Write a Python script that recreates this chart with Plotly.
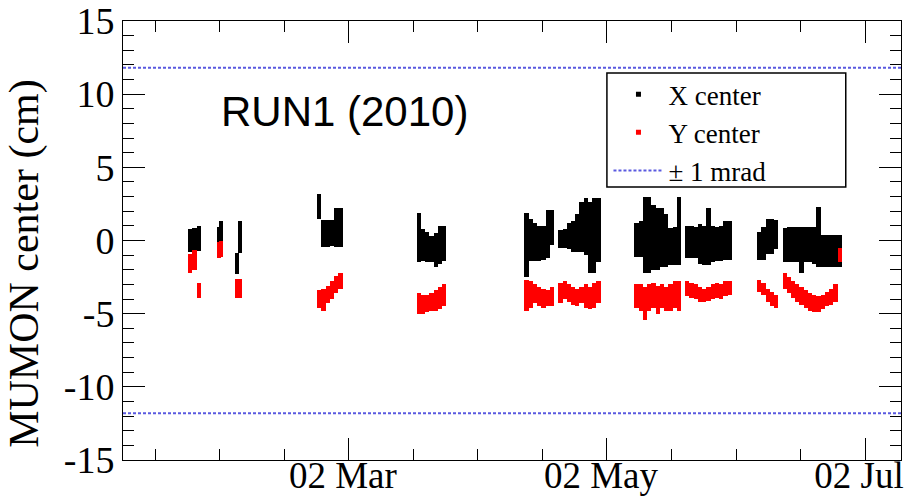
import plotly.graph_objects as go

# ---------------- data ----------------
# X center: date, low, high (cm)
x_dates = [
    "2010-01-23 12:00", "2010-01-24 12:00", "2010-01-25 12:00",
    "2010-01-30 06:00", "2010-01-30 18:00",
    "2010-02-03 12:00", "2010-02-04 06:00",
    "2010-02-23", "2010-02-24", "2010-02-25", "2010-02-26", "2010-02-27", "2010-02-28",
    "2010-03-18 12:00", "2010-03-19 12:00", "2010-03-20 12:00", "2010-03-21 12:00",
    "2010-03-22 12:00", "2010-03-23 12:00", "2010-03-24 12:00",
    "2010-04-13", "2010-04-14", "2010-04-15", "2010-04-16", "2010-04-17", "2010-04-18", "2010-04-19",
    "2010-04-21", "2010-04-22", "2010-04-23", "2010-04-24", "2010-04-25",
    "2010-04-26", "2010-04-27", "2010-04-28", "2010-04-29", "2010-04-30",
    "2010-05-09", "2010-05-10", "2010-05-11", "2010-05-12", "2010-05-13", "2010-05-14",
    "2010-05-15", "2010-05-16", "2010-05-17", "2010-05-18", "2010-05-19",
    "2010-05-21", "2010-05-22", "2010-05-23", "2010-05-24", "2010-05-25", "2010-05-26",
    "2010-05-27", "2010-05-28", "2010-05-29", "2010-05-30", "2010-05-31",
    "2010-06-07", "2010-06-08", "2010-06-09", "2010-06-10", "2010-06-11",
    "2010-06-13", "2010-06-14", "2010-06-15", "2010-06-16", "2010-06-17", "2010-06-18", "2010-06-19",
    "2010-06-20", "2010-06-21", "2010-06-22", "2010-06-23", "2010-06-24", "2010-06-25", "2010-06-26",
]
x_low = [
    -0.8, -0.8, -0.75,
    -0.1, -0.1,
    -2.3, -0.85,
    1.5, -0.45, -0.45, -0.4, -0.45, -0.45,
    -1.5, -1.4, -1.5, -1.5, -1.8, -1.6, -1.4,
    -2.5, -1.4, -1.4, -1.4, -1.3, -1.2, -0.3,
    -0.5, -0.5, -0.6, -0.8, -0.8, -0.8, -1.0, -2.2, -2.2, -1.5,
    -1.1, -1.1, -2.2, -2.2, -2.0, -2.0, -1.8, -1.8, -1.7, -1.7, -1.7,
    -1.2, -1.2, -1.2, -1.6, -1.7, -1.7, -1.5, -1.4, -1.4, -1.3, -1.3,
    -1.3, -1.3, -0.9, -0.9, -0.6,
    -1.5, -1.5, -1.5, -1.5, -2.2, -1.5, -1.5, -1.6, -1.8, -1.8, -1.8, -1.8, -1.8, -1.8,
]
x_high = [
    0.8, 0.85, 1.0,
    0.9, 1.3,
    -0.85, 1.3,
    3.2, 1.4, 1.4, 1.4, 2.2, 2.2,
    1.9, 0.8, 0.6, 0.3, 0.5, 1.0, 1.0,
    1.9, 1.5, 1.2, 1.0, 1.0, 2.1, 2.1,
    0.7, 0.8, 1.2, 1.3, 1.8, 2.6, 2.9, 2.6, 2.9, 2.9,
    1.2, 1.3, 3.0, 3.0, 2.4, 2.2, 2.2, 1.8, 0.85, 0.9, 3.0,
    1.0, 1.0, 0.9, 1.1, 1.0, 2.2, 1.0, 0.9, 1.0, 1.3, 1.3,
    0.6, 0.9, 1.5, 1.5, 1.4,
    0.85, 0.9, 0.9, 0.9, 0.9, 0.9, 0.9, 0.9, 2.3, 0.4, 0.4, 0.4, 0.4, 0.4,
]

# Y center: date, low, high (cm)
y_dates = [
    "2010-01-23 12:00", "2010-01-24 12:00", "2010-01-25 12:00",
    "2010-01-30 06:00", "2010-01-30 18:00",
    "2010-02-03 12:00", "2010-02-04 06:00",
    "2010-02-23", "2010-02-24", "2010-02-25", "2010-02-26", "2010-02-27", "2010-02-28",
    "2010-03-18 12:00", "2010-03-19 12:00", "2010-03-20 12:00", "2010-03-21 12:00",
    "2010-03-22 12:00", "2010-03-23 12:00", "2010-03-24 12:00",
    "2010-04-13", "2010-04-14", "2010-04-15", "2010-04-16", "2010-04-17", "2010-04-18", "2010-04-19",
    "2010-04-21", "2010-04-22", "2010-04-23", "2010-04-24", "2010-04-25",
    "2010-04-26", "2010-04-27", "2010-04-28", "2010-04-29", "2010-04-30",
    "2010-05-09", "2010-05-10", "2010-05-11", "2010-05-12", "2010-05-13", "2010-05-14",
    "2010-05-15", "2010-05-16", "2010-05-17", "2010-05-18", "2010-05-19",
    "2010-05-21", "2010-05-22", "2010-05-23", "2010-05-24", "2010-05-25", "2010-05-26",
    "2010-05-27", "2010-05-28", "2010-05-29", "2010-05-30", "2010-05-31",
    "2010-06-07", "2010-06-08", "2010-06-09", "2010-06-10", "2010-06-11",
    "2010-06-13", "2010-06-14", "2010-06-15", "2010-06-16", "2010-06-17", "2010-06-18", "2010-06-19",
    "2010-06-20", "2010-06-21", "2010-06-22", "2010-06-23", "2010-06-24", "2010-06-25", "2010-06-26",
]
y_low = [
    -2.2, -2.0, -3.9,
    -1.2, -1.1,
    -3.9, -3.9,
    -4.6, -4.8, -4.3, -4.0, -3.6, -3.3,
    -5.0, -5.0, -4.9, -4.8, -4.8, -4.7, -4.5,
    -4.8, -4.6, -4.3, -4.5, -4.6, -4.5, -4.5,
    -4.3, -4.0, -4.2, -4.4, -4.5, -4.3, -4.6, -4.7, -4.6, -4.3,
    -4.6, -4.8, -5.4, -4.8, -4.6, -5.0, -4.6, -4.8, -4.8, -4.6, -4.8,
    -3.8, -3.9, -4.0, -4.2, -4.2, -4.1, -4.0, -3.9, -4.0, -3.8, -3.7,
    -3.5, -3.7, -4.2, -4.5, -4.6,
    -3.3, -3.6, -3.9, -4.2, -4.4, -4.6, -4.8, -4.9, -4.9, -4.7, -4.5, -4.4, -4.2, -1.5,
]
y_high = [
    -0.9, -0.65, -2.9,
    -0.1, 0.0,
    -2.6, -2.6,
    -3.4, -3.3, -3.1, -2.8, -2.4, -2.2,
    -3.6, -3.7, -3.7, -3.6, -3.4, -3.2, -3.0,
    -2.7, -2.8, -3.0, -3.2, -3.3, -3.4, -3.2,
    -2.9, -2.8, -3.0, -3.2, -3.3, -3.2, -3.0, -3.2, -2.9, -2.8,
    -3.0, -3.0, -3.2, -3.0, -2.9, -3.1, -3.0, -3.2, -3.0, -2.8, -2.8,
    -2.8, -2.9, -3.0, -3.2, -3.3, -3.2, -3.0, -2.9, -3.0, -2.8, -2.8,
    -2.7, -2.9, -3.3, -3.5, -3.7,
    -2.2, -2.5, -2.8, -3.0, -3.2, -3.4, -3.6, -3.7, -3.8, -3.7, -3.5, -3.3, -3.0, -0.5,
]

mrad_limit = 11.8  # +-1 mrad in cm

y_tick_vals = [-15, -10, -5, 0, 5, 10, 15]
y_tick_text = ["-15", "-10", "-5", "0", "5", "10", "15"]
x_tick_vals = ["2010-03-02", "2010-05-02", "2010-07-02"]
x_tick_text = ["02 Mar", "02 May", "02 Jul"]
x_range = ["2010-01-07 14:24", "2010-07-10 12:00"]
y_range = [-15, 15]

DAY_MS = 86400000
SERIF = "Liberation Serif"
BLUE = "#5a5ae0"

fig = go.Figure()

fig.add_trace(go.Bar(
    x=x_dates, y=[h - l for l, h in zip(x_low, x_high)], base=x_low,
    width=DAY_MS, marker=dict(color="black", line=dict(width=0)),
    showlegend=False, hoverinfo="skip"))
fig.add_trace(go.Bar(
    x=y_dates, y=[h - l for l, h in zip(y_low, y_high)], base=y_low,
    width=DAY_MS, marker=dict(color="#ff0000", line=dict(width=0)),
    showlegend=False, hoverinfo="skip"))

for sign in (1, -1):
    fig.add_trace(go.Scatter(
        x=x_range, y=[sign * mrad_limit] * 2, mode="lines",
        line=dict(color=BLUE, width=2, dash="3px,2px"),
        showlegend=False, hoverinfo="skip"))

# legend entries
fig.add_trace(go.Scatter(x=[None], y=[None], mode="markers", name="X center",
                         marker=dict(symbol="square", size=5, color="black")))
fig.add_trace(go.Scatter(x=[None], y=[None], mode="markers", name="Y center",
                         marker=dict(symbol="square", size=5, color="#ff0000")))
fig.add_trace(go.Scatter(x=[None], y=[None], mode="lines", name="± 1 mrad",
                         line=dict(color=BLUE, width=2, dash="3px,2px")))

fig.update_layout(
    width=906, height=499,
    margin=dict(l=123, r=5, t=21, b=39, autoexpand=False),
    paper_bgcolor="white", plot_bgcolor="white",
    barmode="overlay", bargap=0,
    font=dict(family=SERIF, color="black", size=38),
    legend=dict(x=0.624, y=0.888, xanchor="left", yanchor="top",
                borderwidth=0, bgcolor="rgba(0,0,0,0)",
                font=dict(family=SERIF, size=27), tracegroupgap=0,
                itemwidth=50),
    shapes=[dict(type="rect", xref="paper", yref="paper",
                 x0=0.622, x1=0.929, y0=0.622, y1=0.8815,
                 line=dict(color="black", width=1.5), fillcolor="white",
                 layer="below")],
    annotations=[
        dict(text="RUN1 (2010)", xref="paper", yref="paper",
             x=0.285, y=0.793, xanchor="center", yanchor="middle",
             showarrow=False,
             font=dict(family="Liberation Sans", size=42, color="black")),
        dict(text="MUMON center (cm)", xref="paper", yref="paper",
             x=-0.126, y=0.449, xanchor="center", yanchor="middle",
             textangle=-90, showarrow=False,
             font=dict(family=SERIF, size=42, color="black")),
    ],
)

fig.update_xaxes(
    type="date", range=x_range, automargin=False,
    tickmode="array", tickvals=x_tick_vals, ticktext=x_tick_text,
    ticks="inside", ticklen=22, tickwidth=1, tickcolor="black",
    showline=True, linecolor="black", linewidth=1, mirror="ticks",
    showgrid=False, zeroline=False,
    tickfont=dict(family=SERIF, size=37),
    ticklabelstandoff=-17, ticklabelshift=-6, ticklabeloverflow="allow",
    minor=dict(ticks="inside", ticklen=11, tickcolor="black", tickwidth=1,
               tick0="2010-03-02", dtick=DAY_MS * 61 / 4, showgrid=False),
)
fig.update_yaxes(
    range=y_range, automargin=False,
    tickmode="array", tickvals=y_tick_vals, ticktext=y_tick_text,
    ticks="inside", ticklen=22, tickwidth=1, tickcolor="black",
    showline=True, linecolor="black", linewidth=1, mirror="ticks",
    showgrid=False, zeroline=False,
    tickfont=dict(family=SERIF, size=38),
    minor=dict(ticks="inside", ticklen=11, tickcolor="black", tickwidth=1,
               tick0=0, dtick=1, showgrid=False),
)

fig.write_html("out.html")
